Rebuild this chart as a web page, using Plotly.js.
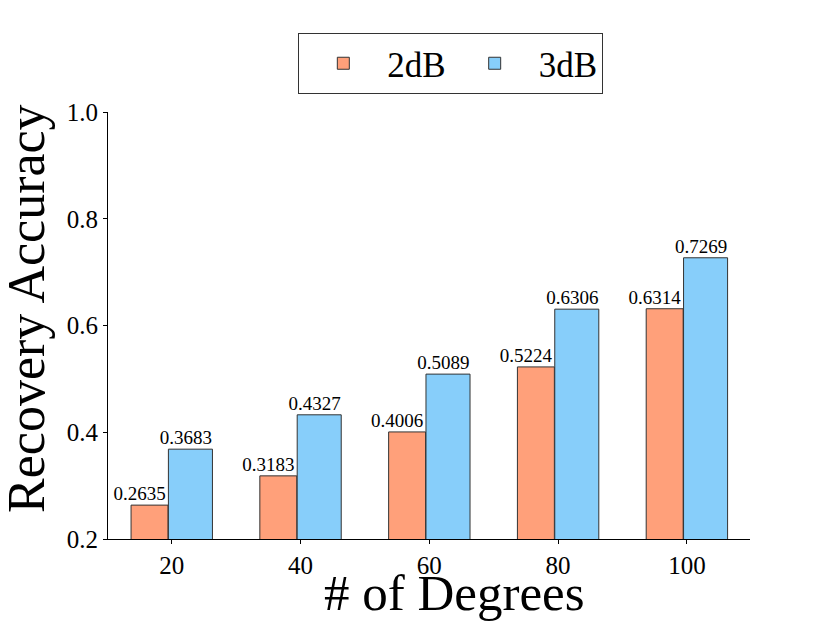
<!DOCTYPE html>
<html>
<head>
<meta charset="utf-8">
<script src="https://cdn.plot.ly/plotly-3.0.1.min.js"></script>
<style>
  body { margin: 0; background: #fff; }
  #myPlot { width: 830px; height: 623px; }
</style>
</head>
<body>
<div id="myPlot"></div>
<script>
// chart values
let degrees = ['20', '40', '60', '80', '100'];
let acc2dB = [0.2635, 0.3183, 0.4006, 0.5224, 0.6314];
let acc3dB = [0.3683, 0.4327, 0.5089, 0.6306, 0.7269];
let yTicks = [0.2, 0.4, 0.6, 0.8, 1.0];

let serif = 'Liberation Serif, Times New Roman, serif';

// numeric positions of the categories, used for the value labels
let idx = degrees.map((d, i) => i);

var trace1 = {
  x: degrees,
  y: acc2dB,
  name: '2dB',
  type: 'bar',
  width: 0.287,
  offset: -0.316,
  marker: { color: '#FFA07A', line: { color: '#333333', width: 1 } }
};
var trace2 = {
  x: degrees,
  y: acc3dB,
  name: '3dB',
  type: 'bar',
  width: 0.342,
  offset: -0.026,
  marker: { color: '#87CEFA', line: { color: '#333333', width: 1 } }
};

// value labels on top of everything
var label1 = {
  x: idx.map(i => i - 0.25),
  y: acc2dB,
  xaxis: 'x2',
  type: 'scatter',
  mode: 'text',
  text: acc2dB.map(v => v.toFixed(4)),
  textposition: 'top center',
  textfont: { family: serif, size: 19, color: '#000' },
  showlegend: false,
  hoverinfo: 'skip',
  cliponaxis: false
};
var label2 = {
  x: idx.map(i => i + 0.11),
  y: acc3dB,
  xaxis: 'x2',
  type: 'scatter',
  mode: 'text',
  text: acc3dB.map(v => v.toFixed(4)),
  textposition: 'top center',
  textfont: { family: serif, size: 19, color: '#000' },
  showlegend: false,
  hoverinfo: 'skip',
  cliponaxis: false
};

var data = [trace1, trace2, label1, label2];

var layout = {
  width: 830,
  height: 623,
  margin: { l: 108, r: 80, t: 112, b: 84 },
  paper_bgcolor: '#fff',
  plot_bgcolor: '#fff',
  font: { family: serif, size: 25, color: '#000' },
  showlegend: true,
  legend: {
    orientation: 'h',
    x: 0.534,
    xanchor: 'center',
    y: 1.185,
    yanchor: 'top',
    bordercolor: '#333',
    borderwidth: 1,
    font: { family: serif, size: 35, color: '#000' },
    itemwidth: 78,
    tracegroupgap: 0
  },
  xaxis: {
    type: 'category',
    range: [-0.495, 4.49],
    showline: true,
    linecolor: '#000',
    linewidth: 1,
    ticks: 'outside',
    ticklen: 4,
    tickcolor: '#000',
    showgrid: false,
    zeroline: false,
    tickfont: { family: serif, size: 25 }
  },
  xaxis2: {
    overlaying: 'x',
    range: [-0.495, 4.49],
    visible: false,
    fixedrange: true
  },
  yaxis: {
    range: [0.2, 1.0],
    tickvals: yTicks,
    ticktext: yTicks.map(v => v.toFixed(1)),
    showline: true,
    linecolor: '#000',
    linewidth: 1,
    ticks: 'outside',
    ticklen: 4,
    tickcolor: '#000',
    showgrid: false,
    zeroline: false,
    tickfont: { family: serif, size: 25 }
  },
  annotations: [
    {
      text: '# of Degrees',
      xref: 'paper', yref: 'paper',
      x: 0.539, y: -0.1967,
      xanchor: 'center', yanchor: 'bottom',
      showarrow: false,
      font: { family: serif, size: 51, color: '#000' }
    },
    {
      text: 'Recovery Accuracy',
      xref: 'paper', yref: 'paper',
      x: -0.126, y: 0.539,
      xanchor: 'center', yanchor: 'middle',
      textangle: -90,
      showarrow: false,
      font: { family: serif, size: 52, color: '#000' }
    }
  ]
};

Plotly.newPlot('myPlot', data, layout, { displayModeBar: false });
</script>
</body>
</html>
